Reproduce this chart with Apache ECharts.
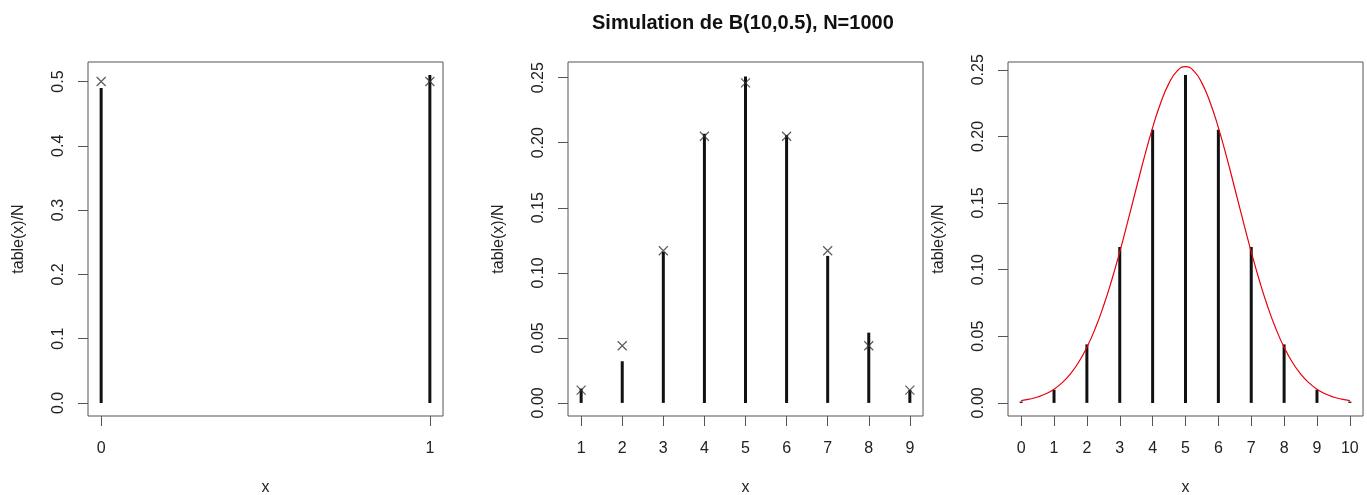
<!DOCTYPE html>
<html>
<head>
<meta charset="utf-8">
<script src="https://cdn.jsdelivr.net/npm/echarts@6/dist/echarts.min.js"></script>
<style>
  html, body { margin: 0; padding: 0; background: #fff; }
  #chart { width: 1367px; height: 495px; }
</style>
</head>
<body>
<div id="chart"></div>
<script>
// panel 1 : two values
const x1 = [0, 1];
const obs1 = [0.49, 0.51];
const theo1 = [0.5, 0.5];

// panel 2 : simulation frequencies (crosses = theoretical probs)
const x2 = [1, 2, 3, 4, 5, 6, 7, 8, 9];
const obs2 = [0.011, 0.032, 0.116, 0.207, 0.251, 0.206, 0.113, 0.054, 0.010];
const theo2 = [0.0098, 0.0439, 0.117, 0.205, 0.246, 0.205, 0.117, 0.0439, 0.0098];

// panel 3 : binomial probabilities + red density curve
const x3 = [0, 1, 2, 3, 4, 5, 6, 7, 8, 9, 10];
const prob3 = [0.001, 0.0098, 0.0439, 0.117, 0.205, 0.246, 0.205, 0.117, 0.0439, 0.0098, 0.001];
const curveX = [0, 0.25, 0.5, 0.75, 1, 1.25, 1.5, 1.75, 2, 2.25, 2.5, 2.75, 3, 3.25, 3.5, 3.75, 4, 4.25, 4.5, 4.75, 5,
    5.25, 5.5, 5.75, 6, 6.25, 6.5, 6.75, 7, 7.25, 7.5, 7.75, 8, 8.25, 8.5, 8.75, 9, 9.25, 9.5, 9.75, 10];
const curveY = [0.0017, 0.0028, 0.0044, 0.0068, 0.0103, 0.0152, 0.0218, 0.0305, 0.0417, 0.0556, 0.0723, 0.0917,
    0.1134, 0.1368, 0.1609, 0.1846, 0.2066, 0.2255, 0.2400, 0.2492, 0.2523,
    0.2492, 0.2400, 0.2255, 0.2066, 0.1846, 0.1609, 0.1368, 0.1134, 0.0917, 0.0723, 0.0556, 0.0417,
    0.0305, 0.0218, 0.0152, 0.0103, 0.0068, 0.0044, 0.0028, 0.0017];

// tick labels
const xTicks1 = [0, 1];
const xTicks2 = [1, 2, 3, 4, 5, 6, 7, 8, 9];
const xTicks3 = [0, 1, 2, 3, 4, 5, 6, 7, 8, 9, 10];
const yTicks1 = [0, 0.1, 0.2, 0.3, 0.4, 0.5];
const yTicks2 = [0, 0.05, 0.1, 0.15, 0.2, 0.25];

const FONT = 'Liberation Sans';
const boxColor = '#555';
const inkColor = '#111';

function pairs(xs, ys) {
    return xs.map((v, i) => [v, ys[i]]);
}

function xAxisOf(idx, min, max, ticks) {
    return {
        type: 'value', gridIndex: idx, min: min, max: max,
        axisLine: {show: false, onZero: false},
        splitLine: {show: false},
        axisTick: {show: true, length: 10, customValues: ticks, lineStyle: {color: boxColor}},
        axisLabel: {customValues: ticks, margin: 25, fontSize: 16, color: '#222', fontFamily: FONT},
        name: 'x', nameLocation: 'middle', nameGap: 64, nameMoveOverlap: false,
        nameTextStyle: {fontSize: 16, color: '#222', fontFamily: FONT}
    };
}

function yAxisOf(idx, min, max, ticks, digits) {
    return {
        type: 'value', gridIndex: idx, min: min, max: max,
        axisLine: {show: false, onZero: false},
        splitLine: {show: false},
        axisTick: {show: true, length: 10, customValues: ticks, lineStyle: {color: boxColor}},
        axisLabel: {
            customValues: ticks, rotate: 90, margin: 21, fontSize: 16, color: '#222', fontFamily: FONT,
            formatter: v => v.toFixed(digits)
        },
        name: 'table(x)/N', nameLocation: 'middle', nameGap: 61, nameMoveOverlap: false,
        nameTextStyle: {fontSize: 16, color: '#222', fontFamily: FONT}
    };
}

function sticks(idx, xs, ys) {
    return {
        type: 'bar', xAxisIndex: idx, yAxisIndex: idx,
        data: pairs(xs, ys), barWidth: 3,
        itemStyle: {color: inkColor}, silent: true, z: 2
    };
}

function crosses(idx, xs, ys) {
    return {
        type: 'scatter', xAxisIndex: idx, yAxisIndex: idx,
        data: pairs(xs, ys),
        symbol: 'path://M0,0L10,10M10,0L0,10', symbolSize: 9,
        itemStyle: {color: 'none', borderColor: '#333', borderWidth: 1.2},
        silent: true, z: 3
    };
}

const chart = echarts.init(document.getElementById('chart'), null, {renderer: 'canvas'});

// plot boxes, same size for the three panels
const boxLefts = [88, 568, 1008];

const option = {
    animation: false,
    backgroundColor: '#fff',
    title: {
        text: 'Simulation de B(10,0.5), N=1000',
        left: 592, top: 13, padding: 0,
        textStyle: {fontSize: 20, fontWeight: 'bold', color: '#111', fontFamily: FONT}
    },
    grid: boxLefts.map(l => ({
        left: l, top: 62, width: 355, height: 354,
        outerBoundsMode: 'none', containLabel: false,
        show: true, borderColor: boxColor, borderWidth: 1
    })),
    xAxis: [
        xAxisOf(0, -0.04, 1.04, xTicks1),
        xAxisOf(1, 0.68, 9.32, xTicks2),
        xAxisOf(2, -0.4, 10.4, xTicks3)
    ],
    yAxis: [
        yAxisOf(0, -0.0204, 0.5304, yTicks1, 1),
        yAxisOf(1, -0.01008, 0.26208, yTicks2, 2),
        yAxisOf(2, -0.00984, 0.25584, yTicks2, 2)
    ],
    series: [
        sticks(0, x1, obs1),
        crosses(0, x1, theo1),
        sticks(1, x2, obs2),
        crosses(1, x2, theo2),
        sticks(2, x3, prob3),
        {
            type: 'line', xAxisIndex: 2, yAxisIndex: 2,
            data: pairs(curveX, curveY),
            smooth: true, showSymbol: false, silent: true, z: 4,
            lineStyle: {color: '#e8000b', width: 1.2}
        }
    ]
};

chart.setOption(option);
</script>
</body>
</html>
